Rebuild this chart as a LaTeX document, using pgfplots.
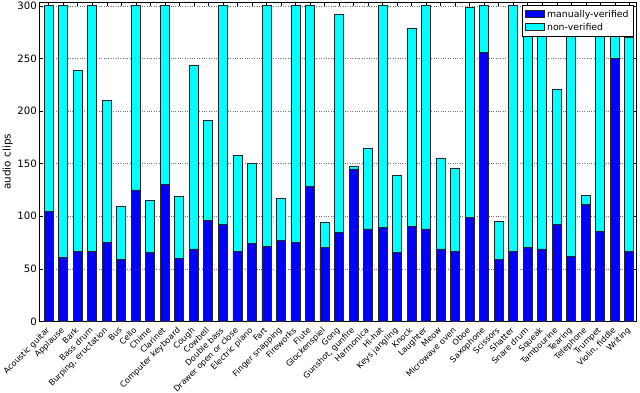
\documentclass[border=0pt]{standalone}
\usepackage{pgfplots}
\pgfplotsset{compat=1.18}
\usepackage{pgfplotstable}
\usepackage{fontspec}
\setmainfont{DejaVu Sans}
\definecolor{mblue}{RGB}{0,0,255}
\definecolor{mcyan}{RGB}{0,255,255}
\pgfplotstableread{
x ver non
0 105 195
1 61 239
2 67 172
3 67 233
4 75 135
5 59 50
6 125 175
7 66 49
8 130 170
9 60 59
10 69 174
11 96 95
12 92 208
13 67 91
14 74 76
15 71 229
16 77 40
17 75 225
18 128 172
19 70 24
20 85 207
21 145 2
22 88 77
23 89 211
24 66 73
25 90 189
26 88 212
27 69 86
28 67 79
29 99 200
30 256 44
31 59 36
32 67 233
33 70 230
34 69 231
35 92 129
36 62 238
37 111 9
38 86 214
39 250 50
40 67 203
}\data
\begin{document}
\begin{tikzpicture}
\begin{axis}[
  scale only axis, width=597bp, height=319.5bp,
  xmin=-0.668, xmax=40.46, ymin=0, ymax=303.7,
  ybar stacked, bar width=9bp,
  xtick={0,...,40},
  xticklabels={Acoustic guitar,Applause,Bark,Bass drum,{Burping, eructation},Bus,Cello,Chime,Clarinet,Computer keyboard,Cough,Cowbell,Double bass,Drawer open or close,Electric piano,Fart,Finger snapping,Fireworks,Flute,Glockenspiel,Gong,{Gunshot, gunfire},Harmonica,Hi-hat,Keys jangling,Knock,Laughter,Meow,Microwave oven,Oboe,Saxophone,Scissors,Shatter,Snare drum,Squeak,Tambourine,Tearing,Telephone,Trumpet,{Violin, fiddle},Writing},
  ytick={0,50,...,300},
  tick align=inside, major tick length=4bp,
  tick style={black, line width=0.5bp},
  axis line style={black, line width=0.8bp},
  ymajorgrids, grid style={dotted, black!55, line width=0.6bp},
  /pgf/number format/assume math mode=true,
  x tick label style={rotate=45, anchor=north east, font=\fontsize{8.2}{9}\selectfont, inner sep=0bp, xshift=-5.6bp, yshift=-1.3bp},
  y tick label style={font=\fontsize{10.2}{11}\selectfont, inner sep=2bp},
  ylabel={audio clips},
  ylabel style={font=\fontsize{10.5}{12}\selectfont, yshift=-1bp},
  legend style={at={(1,1)}, anchor=north east, xshift=-2bp, yshift=-3bp,
    font=\fontsize{9.4}{11}\selectfont, draw=black, line width=0.8bp,
    inner xsep=3bp, inner ysep=2.5bp, row sep=0.6bp, cells={anchor=west}},
  legend image code/.code={\draw[#1, line width=0.8bp] (0bp,-3.5bp) rectangle (19bp,3.5bp);},
]
\addplot[fill=mblue, draw=black!85, line width=0.8bp] table[x=x, y=ver] {\data};
\addplot[fill=mcyan, draw=black!85, line width=0.8bp] table[x=x, y=non] {\data};
\legend{manually-verified, non-verified}
\end{axis}
\pgfresetboundingbox
\path ([shift={(-39bp,-71.5bp)}]current axis.south west) rectangle ([shift={(4bp,2bp)}]current axis.north east);
\end{tikzpicture}
\end{document}
